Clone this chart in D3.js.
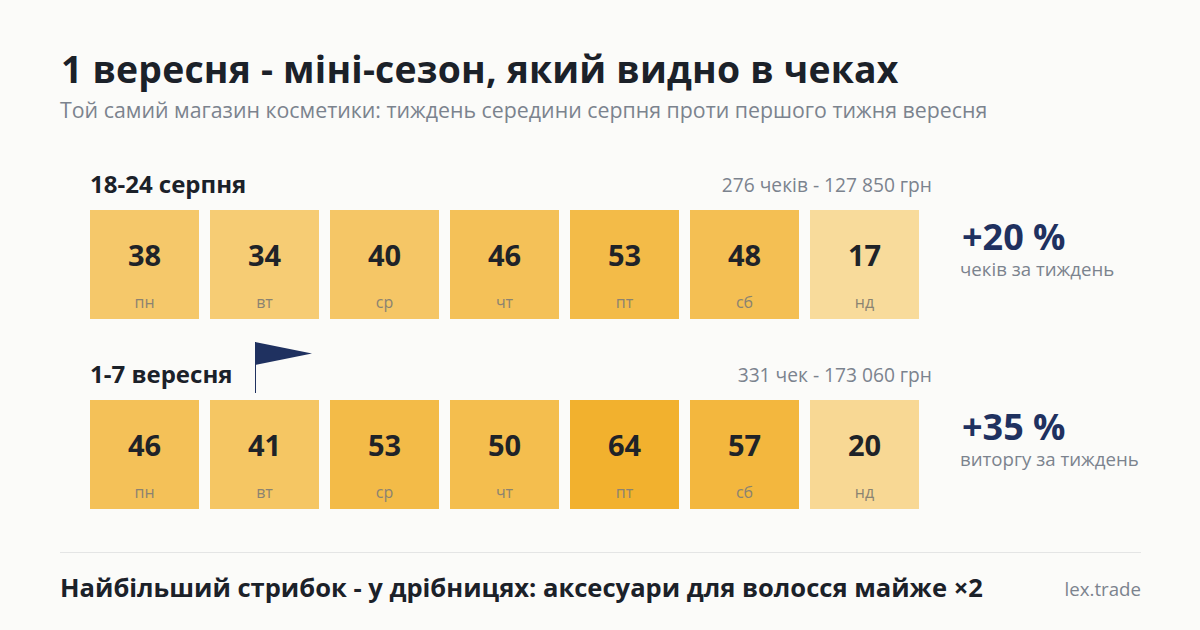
<!DOCTYPE html>
<html><head><meta charset="utf-8">
<script src="https://cdn.jsdelivr.net/npm/d3@7"></script>
<style>html,body{margin:0;padding:0;background:#fbfbf9}svg{display:block}text{font-family:"Open Sans",sans-serif}</style>
</head><body><svg id="c" width="1200" height="630"></svg>
<script>
const days = ["пн","вт","ср","чт","пт","сб","нд"];
const augustValues = [38,34,40,46,53,48,17];
const septemberValues = [46,41,53,50,64,57,20];
const weekLabels = ["18-24 серпня","1-7 вересня"];
const weekTotals = ["276 чеків - 127 850 грн","331 чек - 173 060 грн"];
const deltas = ["+20 %","+35 %"];
const deltaNotes = ["чеків за тиждень","виторгу за тиждень"];
const title = "1 вересня - міні-сезон, який видно в чеках";
const subtitle = "Той самий магазин косметики: тиждень середини серпня проти першого тижня вересня";
const footer = "Найбільший стрибок - у дрібницях: аксесуари для волосся майже ×2";
const source = "lex.trade";

const svg = d3.select("#c");
svg.append("rect").attr("width",1200).attr("height",630).attr("fill","#fbfbf9");
const ink="#1b2129", grey="#7b838e", navy="#1f3160";
const txt=(x,y,s,size,fill,weight,anchor,ls)=>svg.append("text").attr("x",x).attr("y",y).text(s)
  .attr("font-size",size).attr("fill",fill).attr("font-weight",weight||400).attr("text-anchor",anchor||"start")
  .attr("letter-spacing",ls||0);

txt(61,83,title,37.33,ink,700,"start",0.2);
txt(60,118,subtitle,21.33,grey);

const x=d3.scaleBand().domain(d3.range(7)).range([90,919]).paddingInner(11/120);
const color=d3.scaleLinear().domain([17,64]).range(["#f8db9b","#f2b12e"]);
const rows=[{v:augustValues,top:210},{v:septemberValues,top:400}];
rows.forEach((r,i)=>{
  txt(90,r.top-17,weekLabels[i],24,ink,700);
  txt(932,r.top-18,weekTotals[i],19.2,grey,400,"end");
  const g=svg.append("g").selectAll("g").data(r.v).join("g")
    .attr("transform",(d,j)=>`translate(${x(j)},${r.top})`);
  g.append("rect").attr("width",x.bandwidth()).attr("height",109).attr("fill",d=>color(d));
  g.append("text").attr("x",x.bandwidth()/2).attr("y",56).attr("text-anchor","middle")
    .attr("font-size",29).attr("font-weight",700).attr("fill","#1f2328").text(d=>d);
  g.append("text").attr("x",x.bandwidth()/2).attr("y",98).attr("text-anchor","middle")
    .attr("font-size",16).attr("fill","#8b8371").text((d,j)=>days[j]);
  txt(962,r.top+40,deltas[i],36,navy,700);
  txt(960,r.top+66,deltaNotes[i],18.67,grey);
});
svg.append("line").attr("x1",255.5).attr("x2",255.5).attr("y1",342).attr("y2",393).attr("stroke",navy).attr("stroke-width",1);
svg.append("path").attr("d",d3.line()([[255,342],[312,353.5],[255,365]])+"Z").attr("fill",navy);
svg.append("line").attr("x1",60).attr("x2",1141).attr("y1",552.5).attr("y2",552.5).attr("stroke","#e4e5e5");
txt(60,597,footer,25.55,ink,700);
txt(1141,596,source,18.67,grey,400,"end");
</script></body></html>
